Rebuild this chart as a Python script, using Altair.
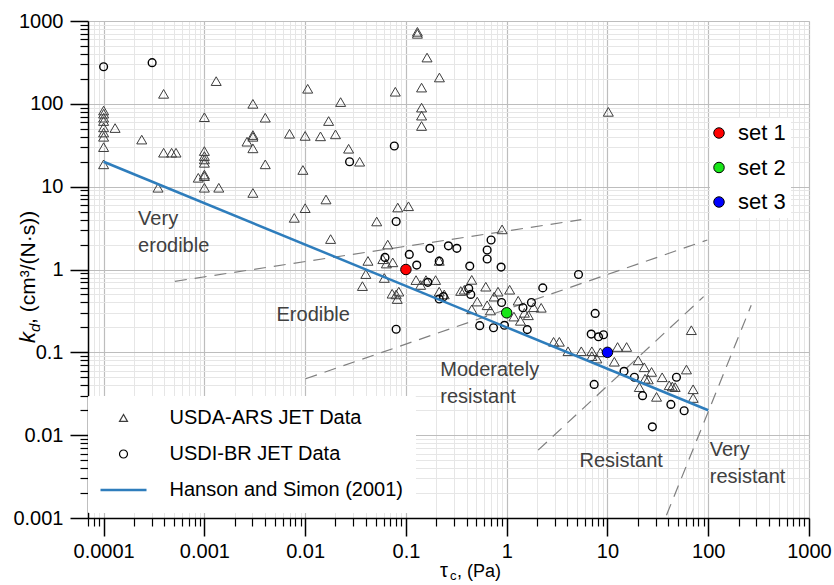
import altair as alt
import pandas as pd

# ---------------- data ----------------
SERIES = ["USDA-ARS JET  Data", "USDI-BR JET Data", "Hanson and Simon (2001)"]

# USDA-ARS JET data (triangles)
tri_x = [1e-4, 1e-4, 1e-4, 1e-4, 1e-4, 1e-4, 1e-4, 1e-4, 1e-4,
         1.3e-4, 2.39e-4, 3.94e-4, 3.94e-4, 4.73e-4, 5.23e-4, 3.47e-4, 1.31e-3,
         1e-3, 1e-3, 1e-3, 1e-3, 1e-3, 1e-3, 1e-3, 1e-3, 8.7e-4, 1.39e-3,
         3.03e-3, 4.02e-3, 3.03e-3, 3.03e-3, 2.65e-3, 3.03e-3, 4.02e-3, 3.03e-3,
         7e-3, 0.01, 0.0142, 0.02, 0.0171, 0.0106, 0.0225, 0.0095, 0.01, 0.0161, 7.8e-3,
         0.027, 0.0347,
         0.13, 0.13, 0.162, 0.215, 0.143, 0.0785, 0.143, 0.143, 0.143,
         10.2, 0.083, 0.106,
         0.0513, 0.0179, 0.066,
         0.042, 0.040, 0.037, 0.059, 0.064, 0.074, 0.061,
         0.073, 0.080, 0.082, 0.085,
         0.126, 0.158, 0.197, 0.14, 0.214, 0.24, 0.214, 0.9,
         0.35, 0.45, 0.38, 0.62, 0.82, 1.07, 0.51, 0.64, 0.69, 0.45, 1.18, 1.37,
         1.64, 1.85, 2.2, 1.3, 0.75, 1.5,
         2.92, 3.33, 4.06, 5.5, 7.0, 7.0, 7.85, 12.6, 15.5, 11.7, 20.2, 23.2, 27.4,
         23.6, 25.4, 34.9, 60.8, 68.0, 44.0, 41.0, 47.0, 30.7, 70.8, 70.8, 20.7, 8.5]
tri_y = [83, 76, 68, 62, 52, 45, 40, 30, 18.6,
         51, 37, 132, 25.7, 25.7, 25.7, 9.7, 188,
         69, 26.9, 23.4, 21.3, 19.4, 14, 13.4, 9.7, 12.8, 9.7,
         100, 68, 42, 40, 34.9, 29, 18.6, 8.4,
         43.5, 41, 40.5, 42.8, 62, 152, 105, 15.9, 5.5, 7.0, 4.2,
         28.7, 20,
         700, 740, 362, 208, 157, 140, 90, 72, 54,
         80, 5.6, 5.8,
         3.8, 2.33, 2.0,
         1.27, 0.88, 0.63, 1.33, 1.18, 1.22, 0.79,
         0.51, 0.50, 0.44, 0.54,
         0.745, 0.745, 0.745, 0.65, 0.54, 0.50, 1.27, 3.05,
         0.55, 0.75, 0.57, 0.62, 0.54, 0.57, 0.41, 0.37, 0.32, 0.33, 0.27, 0.24,
         0.28, 0.35, 0.345, 0.42, 0.47, 0.30,
         0.134, 0.134, 0.103, 0.103, 0.103, 0.090, 0.084, 0.116, 0.116, 0.077, 0.080, 0.066, 0.058,
         0.048, 0.047, 0.050, 0.062, 0.185, 0.0387, 0.040, 0.038, 0.029, 0.0358, 0.0281, 0.038, 0.10]

# USDI-BR JET data (circles)
cir_x = [1e-4, 3.03e-4, 0.0276, 0.0767, 0.08,
         0.062, 0.108, 0.128, 0.173, 0.264, 0.32, 0.214, 0.43, 0.64, 0.70, 0.64, 0.88,
         5.16, 2.28,
         0.165, 0.214, 0.235, 0.08,
         0.42, 0.44, 0.89, 1.45, 1.76,
         0.54, 0.74, 0.95, 1.6,
         7.55, 6.9, 8.15, 9.14, 7.38,
         14.6, 18.5, 22.3, 48.4, 42.6, 57.7, 27.9]
cir_y = [280, 314, 20, 31, 3.8,
         1.4, 1.52, 1.13, 1.8, 1.93, 1.8, 1.26, 1.1, 1.72, 2.27, 1.34, 1.07,
         0.87, 0.6,
         0.70, 0.44, 0.47, 0.19,
         0.59, 0.50, 0.40, 0.345, 0.40,
         0.21, 0.198, 0.212, 0.188,
         0.295, 0.166, 0.154, 0.163, 0.041,
         0.059, 0.050, 0.030, 0.050, 0.0235, 0.0197, 0.0126]

# Hanson and Simon (2001) line
hs_x = [1e-4, 100]
hs_y = [20, 0.02]

# highlighted sets
set_names = ["set 1", "set 2", "set 3"]
set_x = [0.1, 1.0, 10.0]
set_y = [1.0, 0.3, 0.1]
set_colors = ["#ff0000", "#19e619", "#0000ff"]

# erodibility class boundaries (dashed)
dash_id = ["a", "a", "b", "b", "c", "c", "d", "d"]
dash_x = [5.1e-4, 5.5, 0.0101, 98, 2.05, 90, 38.5, 267]
dash_y = [0.72, 4.0, 0.048, 2.27, 0.0066, 0.47, 0.00108, 0.37]

# class labels
zone_text = ["Very\nerodible", "Erodible", "Moderately\nresistant", "Resistant", "Very\nresistant"]
zone_x = [2.2e-4, 5.2e-3, 0.219, 5.28, 103.5]
zone_y = [3.44, 0.24, 0.052, 0.00414, 0.0056]

major_vals = [1e-4, 1e-3, 1e-2, 1e-1, 1, 10, 100, 1000]
major_y_vals = [1e-3, 1e-2, 1e-1, 1, 10, 100, 1000]
minor_x_vals = [7e-5, 8e-5, 9e-5] + [m * 10.0 ** e for e in range(-4, 3) for m in range(2, 10)]
minor_y_vals = [m * 10.0 ** e for e in range(-3, 3) for m in range(2, 10)]

FONT = "Liberation Sans"
BLUE = "#2e7dbc"

# ---------------- frames ----------------
df_tri = pd.DataFrame({"x": tri_x, "y": tri_y, "series": SERIES[0]})
df_cir = pd.DataFrame({"x": cir_x, "y": cir_y, "series": SERIES[1]})
df_hs = pd.DataFrame({"x": hs_x, "y": hs_y, "series": SERIES[2]})
df_set = pd.DataFrame({"x": set_x, "y": set_y, "set": set_names})
df_dash = pd.DataFrame({"x": dash_x, "y": dash_y, "seg": dash_id})
df_zone = pd.DataFrame({"x": zone_x, "y": zone_y, "label": zone_text})
one = pd.DataFrame({"a": [0]})

xs = alt.Scale(type="log", domain=[7e-5, 1000], nice=False)
ys = alt.Scale(type="log", domain=[0.001, 1000], nice=False)

color_s = alt.Scale(domain=SERIES, range=["#3c3c3c", "#000000", BLUE])
# legend glyph for the line: a doubled short stroke so that it reads thicker
shape_s = alt.Scale(domain=SERIES, range=[
    "triangle-up", "circle",
    "M-5.75,-0.15L5.75,-0.15M-5.75,0.15L5.75,0.15"])

series_legend = alt.Legend(
    title=None, orient="none", legendX=0, legendY=375, padding=12,
    fillColor="white", strokeColor="white", labelFont=FONT, labelFontSize=20,
    labelColor="black", symbolSize=64, rowPadding=16, symbolOffset=13.5,
    labelOffset=36, labelLimit=400, symbolStrokeWidth=1.2,
)

major_x_axis = alt.Axis(
    orient="bottom", values=major_vals, format="~g", grid=True, gridColor="#bdbdbd",
    gridWidth=1.2, ticks=True, tickSize=18, tickWidth=1.5, tickColor="black",
    domain=True, domainColor="black", domainWidth=1.5, labelFont=FONT,
    labelFontSize=20, labelColor="black", labelPadding=5, labelFlush=False,
    labelOverlap=False, labelBound=False, title=None,
)
major_y_axis = alt.Axis(
    orient="left", values=major_y_vals, format="~g", grid=True, gridColor="#bdbdbd",
    gridWidth=1.2, ticks=True, tickSize=18, tickWidth=1.5, tickColor="black",
    domain=True, domainColor="black", domainWidth=1.5, labelFont=FONT,
    labelFontSize=20, labelColor="black", labelPadding=7, labelFlush=False,
    labelOverlap=False, labelBound=False, title=None,
)
minor_x_axis = alt.Axis(
    orient="bottom", values=minor_x_vals, grid=True, gridColor="#e6e6e6", gridWidth=1,
    ticks=True, tickSize=8, tickWidth=1.2, tickColor="black", labels=False,
    domain=False, title=None,
)
minor_y_axis = alt.Axis(
    orient="left", values=minor_y_vals, grid=True, gridColor="#e6e6e6", gridWidth=1,
    ticks=True, tickSize=8, tickWidth=1.2, tickColor="black", labels=False,
    domain=False, title=None,
)

dash = alt.Chart(df_dash).mark_line(
    strokeDash=[12, 8], color="#7f7f7f", strokeWidth=1.2
).encode(
    x=alt.X("x:Q", scale=xs, axis=minor_x_axis),
    y=alt.Y("y:Q", scale=ys, axis=minor_y_axis),
    detail="seg:N",
)

tri = alt.Chart(df_tri).mark_point(filled=False, size=100, opacity=1, strokeWidth=1).encode(
    x=alt.X("x:Q", scale=xs, axis=major_x_axis),
    y=alt.Y("y:Q", scale=ys, axis=major_y_axis),
    color=alt.Color("series:N", scale=color_s, legend=series_legend),
    shape=alt.Shape("series:N", scale=shape_s, legend=series_legend),
)

cir = alt.Chart(df_cir).mark_point(filled=False, size=60, opacity=1, strokeWidth=1.4).encode(
    x=alt.X("x:Q", scale=xs, axis=None),
    y=alt.Y("y:Q", scale=ys, axis=None),
    color=alt.Color("series:N", scale=color_s, legend=series_legend),
    shape=alt.Shape("series:N", scale=shape_s, legend=series_legend),
)

hs = alt.Chart(df_hs).mark_line(strokeWidth=2.5).encode(
    x=alt.X("x:Q", scale=xs, axis=None),
    y=alt.Y("y:Q", scale=ys, axis=None),
    color=alt.Color("series:N", scale=color_s, legend=series_legend),
)

sets = alt.Chart(df_set).mark_point(
    filled=True, shape="circle", size=110, stroke="black", strokeWidth=1, opacity=1
).encode(
    x=alt.X("x:Q", scale=xs, axis=None),
    y=alt.Y("y:Q", scale=ys, axis=None),
    fill=alt.Fill("set:N", scale=alt.Scale(domain=set_names, range=set_colors),
                  legend=alt.Legend(
                      title=None, orient="none", legendX=622, legendY=97, padding=4,
                      fillColor="white", strokeColor="white", labelFont=FONT,
                      labelFontSize=22, labelColor="black", symbolSize=110,
                      symbolType="circle", symbolStrokeColor="black",
                      symbolStrokeWidth=1, rowPadding=12.5, labelOffset=8,
                      symbolOffset=-6)),
)

zones = alt.Chart(df_zone).mark_text(
    align="left", baseline="alphabetic", lineBreak="\n", lineHeight=26.7,
    font=FONT, fontSize=20, color="#404040"
).encode(
    x=alt.X("x:Q", scale=xs, axis=None),
    y=alt.Y("y:Q", scale=ys, axis=None),
    text="label:N",
)

def title_piece(txt, x, y, size, angle=0, italic=False):
    return alt.Chart(one).mark_text(
        text=txt, align="left", baseline="alphabetic", font=FONT, fontSize=size,
        fontStyle="italic" if italic else "normal", color="black", angle=angle,
    ).encode(x=alt.value(x), y=alt.value(y))

titles = [
    title_piece("\u03c4", 352, 556, 20),
    title_piece("c", 362, 559, 13),
    title_piece(", (Pa)", 369, 556, 18),
    title_piece("k", -53, 322, 22, angle=270, italic=True),
    title_piece("d", -48, 311, 15, angle=270, italic=True),
    title_piece(" , (cm\u00b3/(N\u00b7s))", -53, 303, 21, angle=270),
]

chart = alt.layer(dash, tri, cir, hs, sets, zones, *titles).resolve_axis(
    x="independent", y="independent"
).properties(
    width=721, height=497,
    autosize=alt.AutoSizeParams(type="none"),
    padding={"left": 88, "top": 21, "right": 25, "bottom": 67},
).configure_view(
    stroke="#1a1a1a", strokeWidth=2
).configure(background="white")

chart.save("out.html", embed_options={"renderer": "svg", "actions": False})
